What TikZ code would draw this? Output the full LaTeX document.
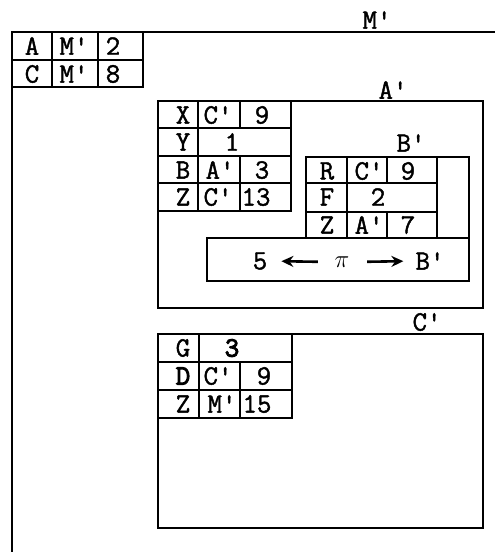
\documentclass[tikz,border=0pt]{standalone}
\usepackage{fontspec}
\newfontfamily\tw{Latin Modern Mono}[FakeBold=1.5]
\newfontfamily\twb{Latin Modern Mono}[FakeBold=3.5]
\usetikzlibrary{arrows.meta}
\newcommand\myq{\textquotesingle}
\begin{document}
\begin{tikzpicture}[x=1pt,y=-1pt,
  ln/.style={line width=1.8pt},
  tt/.style={font=\fontsize{28}{30}\selectfont\tw,inner sep=0pt,anchor=center},
  ttb/.style={tt,font=\fontsize{28}{30}\selectfont\twb},
  lbl/.style={tt},
  arr/.style={line width=2.6pt,-{Stealth[length=12pt,width=11pt]}}]
\useasboundingbox (0,0) rectangle (495,552);
% M' frame
\draw[ln] (495,32) -- (12,32) -- (12,552);
\node[lbl] (Mlab) at (377,20) {M\myq};
% top-left table
\draw[ln] (12,32) rectangle (143,87);
\draw[ln] (12,60) -- (143,60) (52,32) -- (52,87) (98,32) -- (98,87);
\node[tt] (a1) at (32,46) {A};
\node[tt] (a2) at (74,46) {M\myq};
\node[tt] (a3) at (113,46) {2};
\node[tt] (c1) at (32,74) {C};
\node[tt] (c2) at (74,74) {M\myq};
\node[tt] (c3) at (113,74) {8};
% A' box
\draw[ln] (158,101) rectangle (483,308);
\node[lbl] (Alab) at (393,90) {A\myq};
\draw[ln] (158,101) rectangle (291,211);
\draw[ln] (158,128) -- (291,128) (158,156) -- (291,156) (158,183) -- (291,183)
  (198,101) -- (198,211) (240,101) -- (240,128) (240,156) -- (240,211);
\node[tt] (x1) at (183,115) {X};
\node[tt] (x2) at (218,115) {C\myq};
\node[tt] (x3) at (262,115) {9};
\node[tt] (y1) at (183,142) {Y};
\node[tt] (y2) at (232,142) {1};
\node[tt] (b1) at (183,170) {B};
\node[tt] (b2) at (220,170) {A\myq};
\node[tt] (b3) at (262,170) {3};
\node[tt] (z1) at (183,197) {Z};
\node[tt] (z2) at (218,197) {C\myq};
\node[tt] (z3) at (256,197) {13};
% B' box
\draw[ln] (306,238) -- (306,157) -- (469,157) -- (469,281);
\node[lbl] (Blab) at (411,143) {B\myq};
\draw[ln] (306,157) rectangle (437,238);
\draw[ln] (306,183) -- (437,183) (306,212) -- (437,212)
  (347,157) -- (347,238) (387,157) -- (387,183) (387,212) -- (387,238);
\node[tt] (r1) at (327,171) {R};
\node[tt] (r2) at (369,171) {C\myq};
\node[tt] (r3) at (408,171) {9};
\node[tt] (f1) at (327,197) {F};
\node[tt] (f2) at (378,197) {2};
\node[tt] (zz1) at (327,225) {Z};
\node[tt] (zz2) at (369,225) {A\myq};
\node[tt] (zz3) at (408,225) {7};
% pi box
\draw[ln] (207,238) rectangle (469,281);
\node[tt] (five) at (260,261) {5};
\node[tt,minimum width=20pt] (pi) at (342,262) {\fontsize{32}{34}\selectfont$\pi$};
\node[tt] (bp) at (430,261) {B\myq};
\draw[arr,shorten <=14pt,shorten >=14pt] (pi.west) -- (five.east);
\draw[arr,shorten <=15pt,shorten >=12pt] (pi.east) -- (bp.west);
% C' box
\draw[ln] (158,334) rectangle (483,528);
\node[lbl] (Clab) at (427,322) {C\myq};
\draw[ln] (158,334) rectangle (292,418);
\draw[ln] (158,362) -- (292,362) (158,390) -- (292,390)
  (199,334) -- (199,418) (240,362) -- (240,418);
\node[tt] (g1) at (183,348) {G};
\node[ttb] (g2) at (232,348) {3};
\node[ttb] (d1) at (183,376) {D};
\node[tt] (d2) at (218,376) {C\myq};
\node[tt] (d3) at (264,376) {9};
\node[tt] (zc1) at (183,404) {Z};
\node[tt] (zc2) at (222,404) {M\myq};
\node[tt] (zc3) at (257,404) {15};
\end{tikzpicture}
\end{document}
